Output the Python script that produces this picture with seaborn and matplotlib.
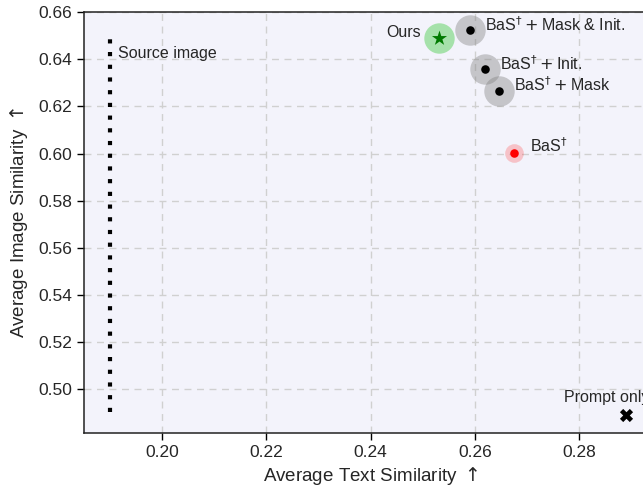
#!/usr/bin/env python3
"""
plot.py - Text vs. image similarity trade-off scatter.
"""

import matplotlib
matplotlib.use('Agg')
import matplotlib.pyplot as plt
import pandas as pd
import seaborn as sns

# -- Data -- #

METHODS = [
    'Ours',
    r'BaS$^{\dagger}+$Mask & Init.',
    r'BaS$^{\dagger}+$Init.',
    r'BaS$^{\dagger}+$Mask',
    r'BaS$^{\dagger}$',
    'Prompt only',
]
TEXT_SIM = [0.253, 0.259, 0.2619, 0.2645, 0.2675, 0.289]
IMAGE_SIM = [0.6492, 0.6527, 0.6358, 0.6268, 0.6002, 0.4890]

SOURCE_LABEL = 'Source image'
SOURCE_TEXT_SIM = [0.19, 0.19]
SOURCE_IMAGE_SIM = [0.490, 0.651]

X_TICKS = [0.20, 0.22, 0.24, 0.26, 0.28]
Y_TICKS = [0.50, 0.52, 0.54, 0.56, 0.58, 0.60, 0.62, 0.64, 0.66]


def main():
    sns.set_theme(style='whitegrid')
    plt.rcParams['font.family'] = ['Liberation Sans', 'DejaVu Sans']
    plt.rcParams['mathtext.fontset'] = 'dejavusans'

    df = pd.DataFrame({'method': METHODS, 'text': TEXT_SIM, 'image': IMAGE_SIM})

    fig = plt.figure(figsize=(6.43, 4.87), dpi=100)
    ax = fig.add_axes([0.130, 0.110, 0.893, 0.8645])
    ax.set_facecolor('#f3f3fb')

    # Halos behind the points.
    halo_colors = ['#32c832', '#808080', '#808080', '#808080', '#ff3030']
    halo_alpha = [0.4, 0.4, 0.4, 0.4, 0.25]
    halo_size = [480, 480, 480, 480, 180]
    for i in range(5):
        sns.scatterplot(
            data=df.iloc[[i]], x='text', y='image', ax=ax,
            s=halo_size[i], color=halo_colors[i], alpha=halo_alpha[i],
            linewidth=0, zorder=3, legend=False,
        )

    # Point markers.
    sns.scatterplot(data=df.iloc[[0]], x='text', y='image', ax=ax,
                    marker='*', s=130, color='#007a00', linewidth=0,
                    zorder=4, legend=False)
    sns.scatterplot(data=df.iloc[1:4], x='text', y='image', ax=ax,
                    s=38, color='black', linewidth=0, zorder=4, legend=False)
    sns.scatterplot(data=df.iloc[[4]], x='text', y='image', ax=ax,
                    s=38, color='#ff0000', linewidth=0, zorder=4, legend=False)
    sns.scatterplot(data=df.iloc[[5]], x='text', y='image', ax=ax,
                    marker='X', s=90, color='black', linewidth=0,
                    zorder=4, legend=False)

    # Source image reference line.
    sns.lineplot(x=SOURCE_TEXT_SIM, y=SOURCE_IMAGE_SIM, ax=ax, color='black',
                 estimator=None, sort=False, linestyle=(0, (1, 2.05)),
                 linewidth=3, zorder=4)
    ax.annotate(SOURCE_LABEL, (SOURCE_TEXT_SIM[1], SOURCE_IMAGE_SIM[1]),
                xytext=(6, -14.5), textcoords='offset points',
                ha='left', va='center', fontsize=11.5)

    # Method labels.
    offsets = [(-13, 4), (11, 3.5), (11, 4), (11, 4), (11, 5), (-45, 12)]
    aligns = ['right', 'left', 'left', 'left', 'left', 'left']
    for name, x, y, off, ha in zip(METHODS, TEXT_SIM, IMAGE_SIM, offsets, aligns):
        ax.annotate(name, (x, y), xytext=off, textcoords='offset points',
                    ha=ha, va='center', fontsize=11.5, zorder=5)

    ax.set_xlim(0.185, 0.295)
    ax.set_ylim(0.481, 0.66)
    ax.set_xticks(X_TICKS)
    ax.set_yticks(Y_TICKS)
    ax.set_xticklabels([f'{v:.2f}' for v in X_TICKS])
    ax.set_yticklabels([f'{v:.2f}' for v in Y_TICKS])
    ax.tick_params(axis='both', labelsize=12.5, length=5, width=1,
                   color='black', direction='out', bottom=True, left=True,
                   pad=3)
    ax.grid(True, linestyle=(0, (5, 4)), color='#d0d0d0', linewidth=1)

    for spine in ax.spines.values():
        spine.set_color('#222222')
        spine.set_linewidth(1.1)

    ax.set_xlabel(r'Average Text Similarity $\uparrow$', fontsize=13.5,
                  labelpad=4)
    ax.set_ylabel(r'Average Image Similarity $\uparrow$', fontsize=13.5,
                  labelpad=6)

    fig.savefig('out.png', dpi=100)


if __name__ == '__main__':
    main()
